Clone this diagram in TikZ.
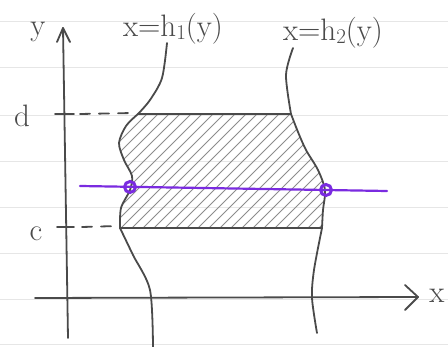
\documentclass[tikz,border=0pt]{standalone}
\usetikzlibrary{calc}
\definecolor{ink}{HTML}{4A4A4A}
\definecolor{hatch}{HTML}{8C8C8C}
\definecolor{ruled}{HTML}{E6E6E6}
\definecolor{violet}{HTML}{7A2BE0}
\tikzset{
  inkline/.style={draw=ink, line width=1.8pt, line cap=round, line join=round},
  ruleline/.style={draw=ruled, line width=1pt},
  hatchline/.style={draw=hatch, line width=0.9pt},
  lbl/.style={text=ink, inner sep=0pt, font=\fontsize{31}{31}\selectfont},
  purpleline/.style={draw=violet, line width=2.2pt, line cap=round},
  dot/.style={draw=violet, line width=3pt, circle, minimum size=11pt, inner sep=0pt}
}
\begin{document}
\begin{tikzpicture}[x=1pt,y=-1pt]
\useasboundingbox (0,0) rectangle (448,347);
\fill[white] (0,0) rectangle (448,347);
% ruled paper
\foreach \yy in {22,68,116,162,208,254,300,345}
  \draw[ruleline] (0,\yy) -- (448,\yy);
% hatched region
\begin{scope}
\clip plot[smooth] coordinates {(138,114) (126,126) (119,143) (124,160) (132,176) (130,190) (121,208) (120,228)}
  -- plot[smooth] coordinates {(322,228) (323,210) (325,190) (318,170) (306,150) (298,132) (291,114)} -- cycle;
\foreach \k in {-300,-289,...,400}
  \draw[hatchline] (\k,330) -- (\k+300,30);
\end{scope}
% boundaries d and c
\draw[inkline] (138,114) -- (291,114);
\draw[inkline] (120,228) -- (322,228);
% left curve x=h1(y)
\draw[inkline] plot[smooth] coordinates {(167,43) (162,78) (150,100) (138,114)};
\draw[inkline] plot[smooth] coordinates {(138,114) (126,126) (119,143) (124,160) (132,176) (130,190) (121,208) (120,228)};
\draw[inkline] plot[smooth] coordinates {(120,228) (133,255) (150,290) (153,347)};
% right curve x=h2(y)
\draw[inkline] plot[smooth] coordinates {(293,48) (286,75) (291,114)};
\draw[inkline] plot[smooth] coordinates {(291,114) (298,132) (306,150) (318,170) (325,190) (323,210) (322,228)};
\draw[inkline] plot[smooth] coordinates {(322,228) (314,270) (312,298) (317,333)};
% axes
\coordinate (yb) at (68,338);
\coordinate (yt) at (63,28);
\coordinate (xl) at (35,298);
\coordinate (xr) at (418,297);
\draw[inkline] (yb) -- (yt);
\draw[inkline] (57,42) -- (yt) -- (70,42);
\draw[inkline] (xl) -- (xr);
\draw[inkline] (405,285) -- (xr) -- (405,310);
% ticks and dashed guides
\draw[inkline] (55,114) -- (74,114);
\draw[inkline, dash pattern=on 10pt off 9pt] (80,114) -- (133,113);
\draw[inkline] (57,227) -- (74,227);
\draw[inkline, dash pattern=on 10pt off 9pt] (82,227) -- (118,226);
% labels
\node[lbl] (ylab) at (38,32) {y};
\node[lbl] (xlab) at (437,296) {x};
\node[lbl] (dlab) at (22,116) {d};
\node[lbl] (clab) at (36,234) {c};
\node[lbl] (h1) at (173,29) {x=h\raisebox{-3pt}{\fontsize{21}{21}\selectfont 1}(y)};
\node[lbl] (h2) at (333,33) {x=h\raisebox{-3pt}{\fontsize{21}{21}\selectfont 2}(y)};
% purple cross-section
\coordinate (pl) at (80,186);
\coordinate (pr) at (387,191);
\draw[purpleline] (pl) -- (pr);
\node[dot] (p1) at (130,187) {};
\node[dot] (p2) at (326,190) {};
\end{tikzpicture}
\end{document}
